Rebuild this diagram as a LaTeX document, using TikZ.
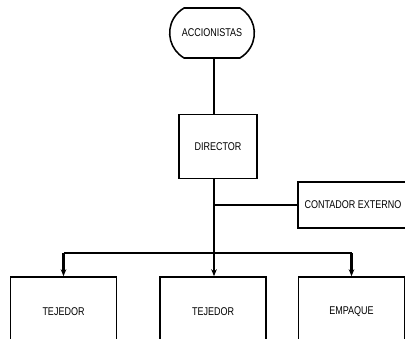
\documentclass[tikz,border=0pt]{standalone}
\usepackage{fontspec}
\setmainfont[FakeStretch=0.8]{Liberation Sans}
\usetikzlibrary{positioning, arrows.meta, shapes.misc}

\begin{document}
\begin{tikzpicture}[x=0.025cm, y=-0.025cm,
                box/.style={draw, line width=1.1pt, font=\footnotesize,
                            minimum width=2.65cm, minimum height=1.75cm},
                link/.style={line width=2pt},
                drop/.style={line width=2pt, -{Stealth[length=5pt, width=4pt]}}
            ]

            \useasboundingbox (0, 0) rectangle (405, 339);
            \clip (0, 0) rectangle (405, 339);

            \node[draw, line width=1.1pt, rounded rectangle,
                  rounded rectangle arc length=120,
                  minimum width=2.35cm, minimum height=1.25cm,
                  font=\footnotesize] (acc) at (212, 33) {ACCIONISTAS};

            \node[draw, line width=1.1pt, minimum width=1.95cm,
                  minimum height=1.6cm, font=\footnotesize] (dir) at (218, 146.5) {DIRECTOR};

            \node[draw, line width=1.1pt, minimum width=2.75cm,
                  minimum height=1.15cm, font=\footnotesize] (cont) at (353, 205) {CONTADOR EXTERNO};

            \node[box] (tej1) at (63.5, 312) {TEJEDOR};
            \node[box] (tej2) at (213, 312) {TEJEDOR};
            \node[box] (emp) at (351.5, 312) {EMPAQUE};

            \coordinate (bus) at (214, 253);

            \draw[link] (acc.south -| bus) -- (dir.north -| bus);
            \draw[link] (dir.south -| bus) -- (bus);
            \draw[link] (bus |- cont.west) -- (cont.west);
            \draw[link] (bus -| tej1) -- (bus -| emp);

            \draw[drop] (bus -| tej1) -- (tej1.north);
            \draw[drop] (bus) -- (tej2.north -| bus);
            \draw[drop] (bus -| emp) -- (emp.north);

            \end{tikzpicture}
\end{document}
